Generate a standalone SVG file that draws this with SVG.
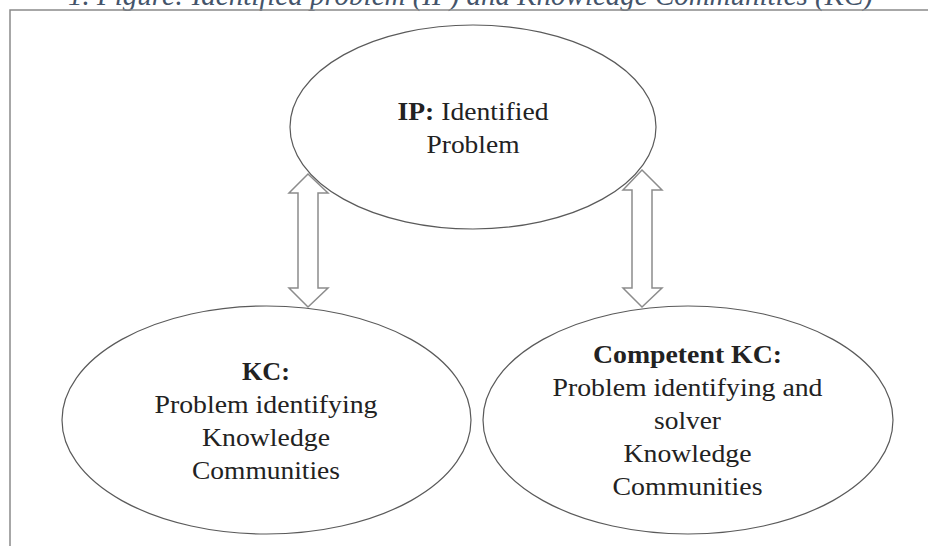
<svg xmlns="http://www.w3.org/2000/svg" width="928" height="546" viewBox="0 0 928 546">
<style>
.cap{font-family:"Liberation Serif","Times New Roman",serif;font-style:italic;font-size:29px;fill:#44546a}
.frame{fill:none;stroke:#8a8a8a;stroke-width:1.5}
.node{fill:#fff;stroke:#5a5a5a;stroke-width:1.2}
.lbl{font-family:"Liberation Serif","Times New Roman",serif;font-size:24.5px;fill:#222;text-anchor:middle}
.b{font-weight:bold}
.arr{fill:#fff;stroke:#8c8c8c;stroke-width:1.5;stroke-linejoin:miter}
</style>
<rect width="928" height="546" fill="#fff"/>
<text class="cap" x="68" y="5" textLength="805" lengthAdjust="spacingAndGlyphs">1. Figure: Identified problem (IP) and Knowledge Communities (KC)</text>
<path class="frame" d="M10 546 V10 H928"/>
<g id="ip">
<ellipse class="node" cx="473" cy="127" rx="183" ry="102"/>
<text class="lbl" x="473" y="120" style="font-size:26px" textLength="151" lengthAdjust="spacingAndGlyphs"><tspan class="b">IP:</tspan> Identified</text>
<text class="lbl" x="473" y="153" style="font-size:26px" textLength="93" lengthAdjust="spacingAndGlyphs">Problem</text>
</g>
<g id="kc">
<ellipse class="node" cx="266.5" cy="420" rx="204.5" ry="114"/>
<text class="lbl b" x="266" y="380" textLength="48" lengthAdjust="spacingAndGlyphs">KC:</text>
<text class="lbl" x="266" y="413" textLength="223" lengthAdjust="spacingAndGlyphs">Problem identifying</text>
<text class="lbl" x="266" y="446" textLength="128" lengthAdjust="spacingAndGlyphs">Knowledge</text>
<text class="lbl" x="266" y="479" textLength="148" lengthAdjust="spacingAndGlyphs">Communities</text>
</g>
<g id="competent-kc">
<ellipse class="node" cx="688" cy="420" rx="205" ry="114"/>
<text class="lbl b" x="687.5" y="363" textLength="189" lengthAdjust="spacingAndGlyphs">Competent KC:</text>
<text class="lbl" x="687.5" y="396" textLength="270" lengthAdjust="spacingAndGlyphs">Problem identifying and</text>
<text class="lbl" x="687.5" y="429" textLength="67" lengthAdjust="spacingAndGlyphs">solver</text>
<text class="lbl" x="687.5" y="462" textLength="128" lengthAdjust="spacingAndGlyphs">Knowledge</text>
<text class="lbl" x="687.5" y="495" textLength="150" lengthAdjust="spacingAndGlyphs">Communities</text>
</g>
<g id="connectors">
<polygon class="arr" points="308,174 328,193 318,193 318,288 328,288 308,307 289,288 298,288 298,193 289,193"/>
<polygon class="arr" points="642,170 662,190 652,190 652,288 662,288 642,307 623,288 632,288 632,190 623,190"/>
</g>
</svg>
